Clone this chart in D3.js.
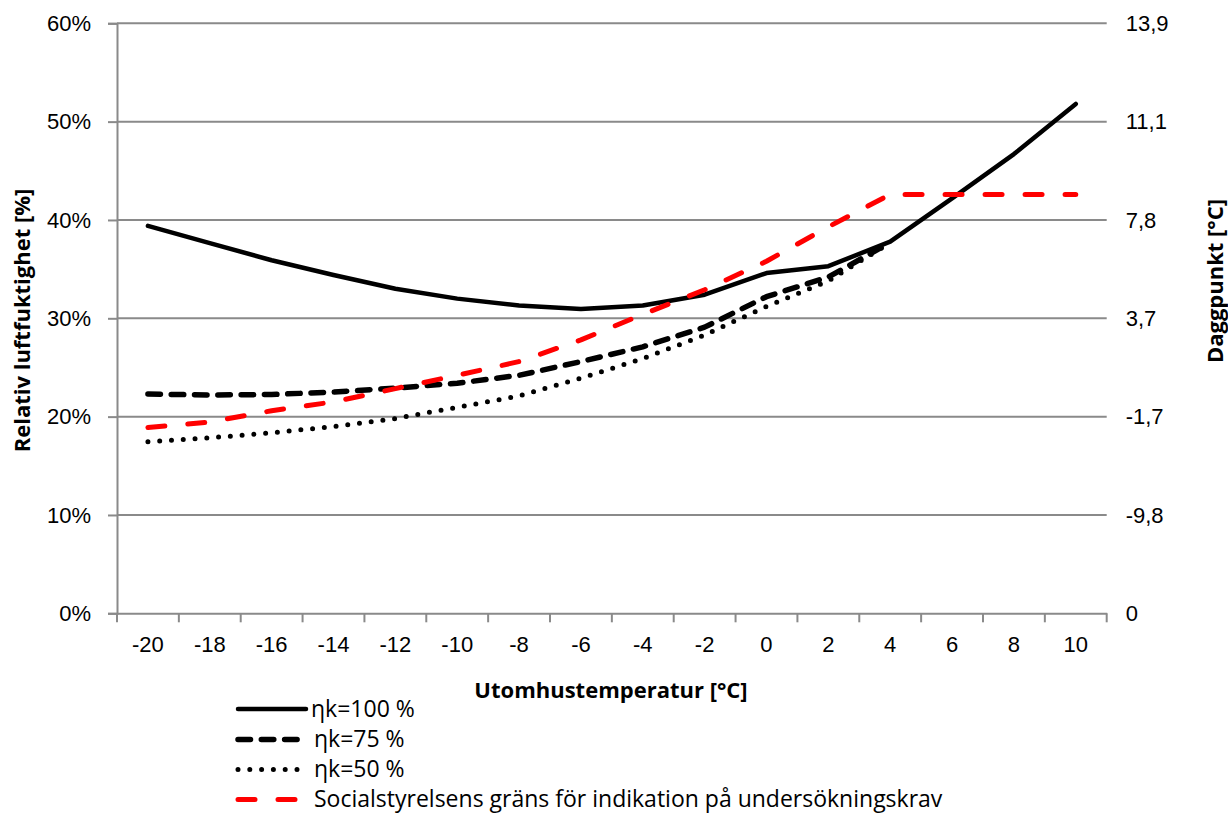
<!DOCTYPE html>
<html>
<head>
<meta charset="utf-8">
<script src="https://cdn.jsdelivr.net/npm/d3@7"></script>
<style>
  html, body { margin: 0; padding: 0; background: #fff; }
  svg { display: block; font-family: "Open Sans", "Noto Sans", sans-serif; }
</style>
</head>
<body>
<svg id="chart" width="1228" height="814"></svg>
<script>
// ---- data ----
const categories = [-20, -18, -16, -14, -12, -10, -8, -6, -4, -2, 0, 2, 4, 6, 8, 10];
const eta100 = [39.4, 37.65, 35.9, 34.4, 33.0, 32.0, 31.3, 30.95, 31.3, 32.4, 34.6, 35.3, 37.8, 42.2, 46.7, 51.8];
const eta75  = [22.3, 22.2, 22.25, 22.5, 22.9, 23.4, 24.2, 25.6, 27.1, 29.1, 32.2, 34.2, 37.7, null, null, null];
const eta50  = [17.45, 17.85, 18.35, 19.0, 19.8, 20.95, 22.1, 23.9, 25.9, 28.3, 31.2, 33.8, 37.7, null, null, null];
const socialGrans = [18.9, 19.45, 20.6, 21.5, 22.85, 24.2, 25.6, 27.8, 30.4, 32.9, 35.8, 39.3, 42.6, 42.6, 42.6, 42.6];
const leftTicks = [0, 10, 20, 30, 40, 50, 60];
const rightTickLabels = ["0", "-9,8", "-1,7", "3,7", "7,8", "11,1", "13,9"];
const seriesNames = ["\u03b7k=100 %", "\u03b7k=75 %", "\u03b7k=50 %", "Socialstyrelsens gr\u00e4ns f\u00f6r indikation p\u00e5 unders\u00f6kningskrav"];
const xTitle = "Utomhustemperatur [\u00b0C]";
const yTitle = "Relativ luftfuktighet [%]";
const y2Title = "Daggpunkt [\u00b0C]";

// ---- layout ----
const W = 1228, H = 814;
const m = { left: 117, right: 121.3, top: 23.3, bottom: 200.7 };
const svg = d3.select("#chart");
const gridColor = "#8a8a8a";
const fs = 22;
const legendFs = 23;

const x = d3.scaleBand().domain(categories).range([m.left, W - m.right]).padding(0);
const y = d3.scaleLinear().domain([0, 60]).range([H - m.bottom, m.top]);
const xc = d => x(d) + x.bandwidth() / 2;

// gridlines
svg.append("g").selectAll("line").data(leftTicks.filter(d => d > 0)).join("line")
  .attr("x1", m.left).attr("x2", W - m.right)
  .attr("y1", d => y(d)).attr("y2", d => y(d))
  .attr("stroke", gridColor).attr("stroke-width", 2);

// left axis
const yAxis = svg.append("g").attr("transform", `translate(${m.left},0)`)
  .call(d3.axisLeft(y).tickValues(leftTicks).tickFormat(d => d + "%").tickSize(9).tickPadding(17));
yAxis.select(".domain").attr("stroke", gridColor).attr("stroke-width", 2);
yAxis.selectAll(".tick line").attr("stroke", gridColor).attr("stroke-width", 2);
yAxis.selectAll(".tick text").attr("font-size", fs).attr("fill", "#000").attr("font-family", null);

// right axis (labels only)
const y2Axis = svg.append("g").attr("transform", `translate(${W - m.right},0)`)
  .call(d3.axisRight(y).tickValues(leftTicks).tickFormat((d, i) => rightTickLabels[i]).tickSize(0).tickPadding(19));
y2Axis.select(".domain").remove();
y2Axis.selectAll(".tick text").attr("font-size", fs).attr("fill", "#000").attr("font-family", null);

// x axis line and ticks
const xAxis = svg.append("g").attr("transform", `translate(0,${H - m.bottom})`)
  .call(d3.axisBottom(x).tickSize(0).tickPadding(23));
xAxis.select(".domain").attr("stroke", gridColor).attr("stroke-width", 2);
xAxis.selectAll(".tick text").attr("font-size", fs).attr("fill", "#000").attr("font-family", null);
const boundaries = categories.map(c => x(c)).concat([x.range()[1]]);
xAxis.selectAll(".bt").data(boundaries).join("line").attr("class", "bt")
  .attr("x1", d => d).attr("x2", d => d).attr("y1", 0).attr("y2", 9)
  .attr("stroke", gridColor).attr("stroke-width", 2);

// series
const styles = [
  { data: eta100, color: "#000", width: 4.5, dash: null },
  { data: eta75, color: "#000", width: 5.5, dash: "12.5,10.8" },
  { data: eta50, color: "#000", width: 5, dash: "0,11.8" },
  { data: socialGrans, color: "#ff0000", width: 5, dash: "17,23" }
];
const line = d3.line()
  .defined(d => d.v != null)
  .x(d => xc(d.c)).y(d => y(d.v));
styles.forEach(s => {
  svg.append("path")
    .datum(categories.map((c, i) => ({ c, v: s.data[i] })))
    .attr("d", line)
    .attr("fill", "none")
    .attr("stroke", s.color)
    .attr("stroke-width", s.width)
    .attr("stroke-linecap", "round")
    .attr("stroke-linejoin", "round")
    .attr("stroke-dasharray", s.dash);
});

// axis titles
svg.append("text").attr("x", 611).attr("y", 690).attr("dy", "0.35em")
  .attr("text-anchor", "middle").attr("font-weight", "bold").attr("font-size", fs).text(xTitle);
svg.append("text").attr("transform", "translate(22,320.5) rotate(-90)").attr("dy", "0.35em")
  .attr("text-anchor", "middle").attr("font-weight", "bold").attr("font-size", fs).text(yTitle);
svg.append("text").attr("transform", "translate(1215,281) rotate(-90)").attr("dy", "0.35em")
  .attr("text-anchor", "middle").attr("font-weight", "bold").attr("font-size", fs).text(y2Title);

// legend
const legendY = [709, 739.5, 769.5, 799.5];
const lg = svg.append("g");
styles.forEach((s, i) => {
  lg.append("line")
    .attr("x1", 238).attr("x2", 306)
    .attr("y1", legendY[i]).attr("y2", legendY[i])
    .attr("stroke", s.color).attr("stroke-width", s.width)
    .attr("stroke-linecap", "round").attr("stroke-dasharray", s.dash);
  lg.append("text").attr("x", i === 0 ? 311 : 314).attr("y", legendY[i]).attr("dy", "0.33em")
    .attr("font-size", legendFs).attr("fill", "#000").text(seriesNames[i]);
});
</script>
</body>
</html>
